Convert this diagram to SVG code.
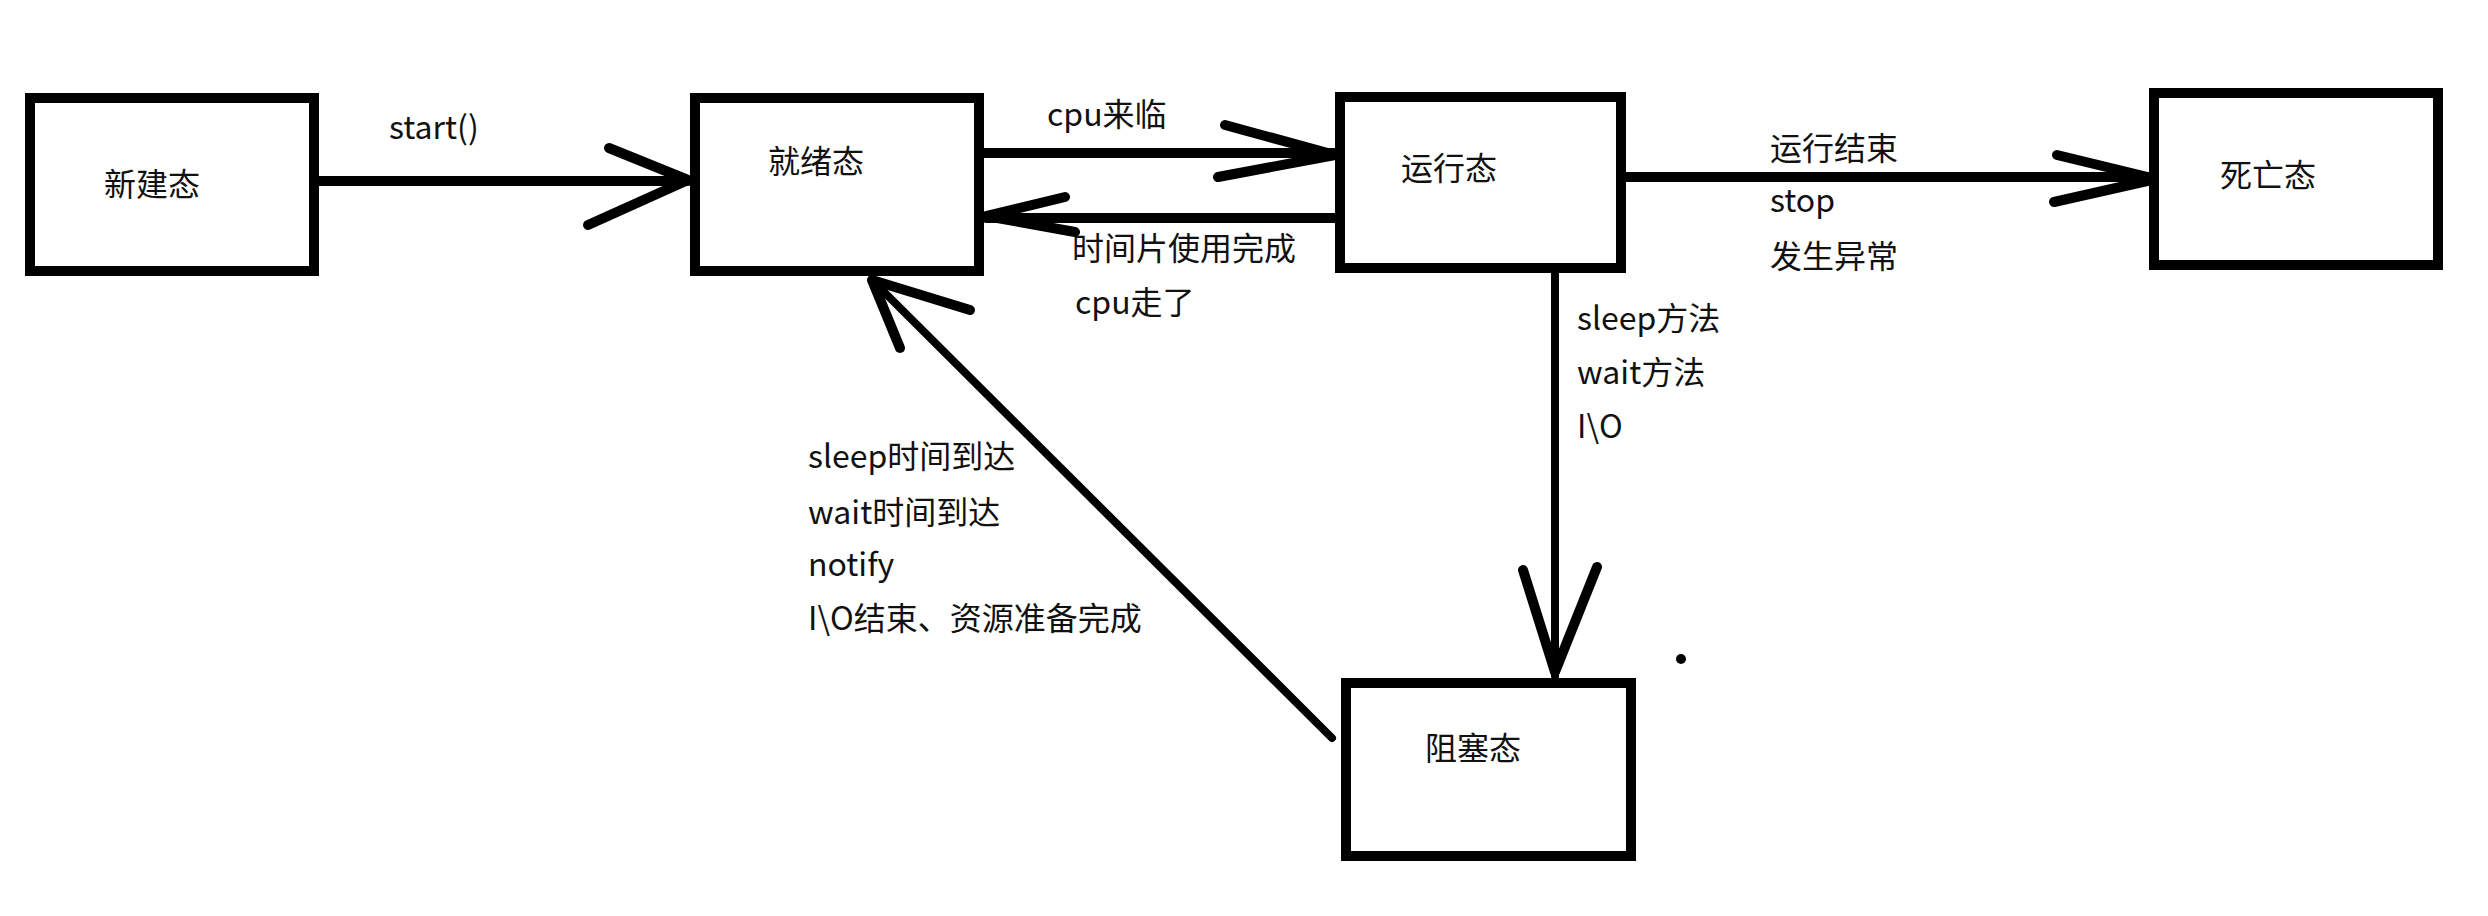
<svg xmlns="http://www.w3.org/2000/svg" width="2488" height="916" viewBox="0 0 2488 916">
<style>
.box{fill:#fff;stroke:#000;stroke-width:10}
.t{font-family:"Noto Sans CJK SC","Microsoft YaHei","Noto Sans",sans-serif;font-size:32px;fill:#111}
.ln{fill:none;stroke:#000;stroke-width:10;stroke-linecap:round;stroke-linejoin:round}
.ln8{fill:none;stroke:#000;stroke-width:8;stroke-linecap:round;stroke-linejoin:round}
</style>
<rect width="2488" height="916" fill="#fff"/>
<g id="connectors">
<line class="ln" x1="319" y1="181" x2="688" y2="181"/>
<polyline class="ln" points="609,148 688,180 588,225"/>
<line class="ln" x1="984" y1="153" x2="1335" y2="153"/>
<polyline class="ln" points="1225,125 1335,155 1218,177"/>
<line class="ln" x1="1335" y1="218" x2="986" y2="218"/>
<polyline class="ln" points="1065,197 986,216 1075,232"/>
<line class="ln" x1="1626" y1="177" x2="2155" y2="177"/>
<polyline class="ln" points="2057,155 2156,179 2054,202"/>
<line class="ln8" x1="1555" y1="273" x2="1555" y2="676"/>
<polyline class="ln" points="1523,570 1555,672 1597,567"/>
<line class="ln8" x1="1332" y1="738" x2="872" y2="280"/>
<polyline class="ln" points="970,310 872,280 900,348"/>
<text class="t" x="389" y="139">start()</text>
<text class="t" x="1047" y="126">cpu来临</text>
<text class="t" x="1072" y="260">时间片使用完成</text>
<text class="t" x="1075" y="314">cpu走了</text>
<text class="t" x="1770" y="160">运行结束</text>
<text class="t" x="1770" y="212">stop</text>
<text class="t" x="1770" y="268">发生异常</text>
<text class="t" x="1577" y="330">sleep方法</text>
<text class="t" x="1577" y="384">wait方法</text>
<text class="t" x="1577" y="438">I\O</text>
<text class="t" x="808" y="468">sleep时间到达</text>
<text class="t" x="808" y="524">wait时间到达</text>
<text class="t" x="808" y="576">notify</text>
<text class="t" x="808" y="630">I\O结束、资源准备完成</text>
</g>
<g id="node-new">
<rect class="box" x="30" y="98" width="284" height="173"/>
<text class="t" x="104" y="196">新建态</text>
</g>
<g id="node-ready">
<rect class="box" x="695" y="98" width="284" height="173"/>
<text class="t" x="768" y="173">就绪态</text>
</g>
<g id="node-running">
<rect class="box" x="1340" y="97" width="281" height="171"/>
<text class="t" x="1401" y="180">运行态</text>
</g>
<g id="node-dead">
<rect class="box" x="2154" y="93" width="284" height="172"/>
<text class="t" x="2220" y="187">死亡态</text>
</g>
<g id="node-blocked">
<rect class="box" x="1346" y="683" width="285" height="173"/>
<text class="t" x="1425" y="760">阻塞态</text>
</g>
<circle cx="1681" cy="659" r="5" fill="#000"/>
</svg>
